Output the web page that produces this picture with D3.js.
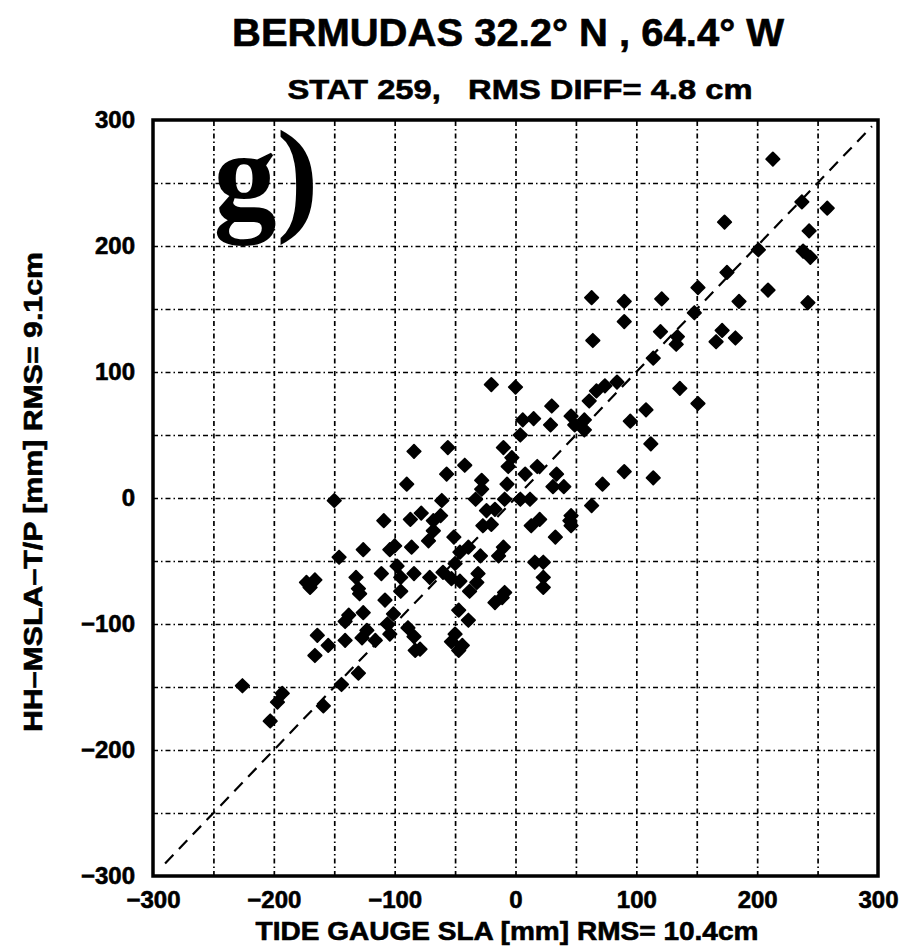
<!DOCTYPE html>
<html>
<head>
<meta charset="utf-8">
<script src="https://cdn.jsdelivr.net/npm/d3@7"></script>
<style>
  html, body { margin: 0; padding: 0; background: #fff; }
  svg { display: block; }
  text { font-family: "Liberation Sans", Arial, Helvetica, sans-serif; font-weight: bold; fill: #000; }
  .heavy { stroke: #000; stroke-width: 0.6px; }
</style>
</head>
<body>
<svg id="chart" width="908" height="949"></svg>
<script>
// Tide gauge sea level anomaly (mm) vs. altimeter HH-MSLA minus T/P (mm), Bermuda station
const tideGauge = [
  213, 258, 237, 173, 243, 201, 238, 244, 175, 209, 151, 242, 185, 121, 90, 90, 148, 120, 134, 133,
  171, 166, 182, 114, 136, 74, 84,
  67, 61, 151, 108, 95, 46, 57, 57, 49, 112, 90, 114, 72, 40, 63, 45,
  63, 64, -20, 0, 30, 6, 15,
  -84, -56, -42, -57, -90, -28, -28, -33, -7, -10, -3, 4, -6, 8, 18, 29, 34, 31, 4, 12,
  -9, -17, -24, 13, 20, 46, 46, 33, -27, -20, -10, -14, -29, -46, -51, -39, -68, -62, -68, -87,
  -78, -61, -72, -86, -104, -100, -109, -98, -84, -71, -60, -53, -46, -50, -31, -32, -38, 16, 23, 23,
  23, -9, -17, -95, -101, -111,
  -108, -106, -104, -89, -84, -83, -79, -47, -39, -50, -53, -44, -47, -11,
  -150, -126, -146, -173, -166, -170, -132, -130, -129, -95, -138, -126,
  -141, -164, -155, -141, -127, -123, -116, -166, -130, -144, -226, -193, -197, -159, -203
];
const altimetry = [
  269, 230, 235, 219, 212, 197, 196, 191, 179, 165, 167, 155, 156, 158, 156, 140, 147, 132, 128, 122,
  133, 124, 127, 111, 87, 89, 92,
  85, 77, 75, 70, 61, 65, 62, 54, 58, 43, 21, 16, 11, 9, -6, -18,
  159, 125, 90, 88, 73, 62, 63,
  37, 40, 26, 19, 11, 14, 7, -1, 11, 40, 32, 50, 25, 19, 25, 58, 19, 9, -1, -1,
  -1, -9, -10, -22, -17, -14, -22, -31, -22, -21, -39, -46, -46, -43, -31, -39, -18, -14, -26, -17,
  -12, -2, -34, -39, -41, -38, -18, -54, -60, -63, -59, -64, -66, -52, -60, -67, -74, -51, -51, -63,
  -71, -75, -83, -74, -92, -60,
  -81, -100, -108, -103, -110, -121, -120, -89, -97, -108, -114, -117, -121, -79,
  -2, -41, -47, -67, -65, -71, -63, -72, -76, -63, -93, -91,
  -98, -109, -117, -113, -111, -105, -113, -125, -139, -148, -149, -155, -162, -165, -177
];

const axisTicks = [-300, -200, -100, 0, 100, 200, 300];
const gridValues = [-250, -200, -150, -100, -50, 0, 50, 100, 150, 200, 250];
const diagonalEnds = [-290, 295];

const titleText = "BERMUDAS 32.2\u00B0 N , 64.4\u00B0 W";
const subtitleText = "STAT 259,   RMS DIFF= 4.8 cm";
const xTitleText = "TIDE GAUGE SLA [mm] RMS= 10.4cm";
const yTitleText = "HH\u2013MSLA\u2013T/P [mm] RMS= 9.1cm";
const panelTag = "g)";

const svg = d3.select("#chart");
const x = d3.scaleLinear().domain([-300, 300]).range([153, 878]);
const y = d3.scaleLinear().domain([-300, 300]).range([876, 120]);
const plotW = x.range()[1] - x.range()[0];
const plotH = y.range()[0] - y.range()[1];

// dash-dot grid every 50 mm
const gridStyle = g => g.selectAll("line")
  .attr("stroke", "#000").attr("stroke-width", 1.7).attr("stroke-dasharray", "5,3,1.5,3");
svg.append("g")
  .attr("transform", `translate(0,${y.range()[0]})`)
  .call(d3.axisBottom(x).tickValues(gridValues).tickSize(-plotH).tickFormat(""))
  .call(g => g.select(".domain").remove())
  .call(gridStyle);
svg.append("g")
  .attr("transform", `translate(${x.range()[0]},0)`)
  .call(d3.axisLeft(y).tickValues(gridValues).tickSize(-plotW).tickFormat(""))
  .call(g => g.select(".domain").remove())
  .call(gridStyle);

// panel tag
svg.append("text")
  .attr("x", x(-250))
  .attr("y", y(222))
  .style("font-family", "'Liberation Serif', 'Times New Roman', serif")
  .style("font-weight", "bold")
  .style("font-size", "126px")
  .text(panelTag);

// 1:1 line
svg.append("line")
  .attr("x1", x(diagonalEnds[0])).attr("y1", y(diagonalEnds[0]))
  .attr("x2", x(diagonalEnds[1])).attr("y2", y(diagonalEnds[1]))
  .attr("stroke", "#000").attr("stroke-width", 2.2).attr("stroke-dasharray", "12,8");

// point markers: fat four-pointed star
const starSymbol = {
  draw(ctx, size) {
    const r = Math.sqrt(size) / 2, k = r * 0.5;
    ctx.moveTo(0, -r); ctx.lineTo(k, -k); ctx.lineTo(r, 0); ctx.lineTo(k, k);
    ctx.lineTo(0, r); ctx.lineTo(-k, k); ctx.lineTo(-r, 0); ctx.lineTo(-k, -k);
    ctx.closePath();
  }
};
const pts = d3.zip(tideGauge, altimetry);
svg.append("g").selectAll("path").data(pts).join("path")
  .attr("transform", d => `translate(${x(d[0])},${y(d[1])})`)
  .attr("d", d3.symbol().type(starSymbol).size(180))
  .attr("fill", "#000").attr("stroke", "#000").attr("stroke-width", 1.8).attr("stroke-linejoin", "round");

// frame
svg.append("rect")
  .attr("x", x.range()[0]).attr("y", y.range()[1])
  .attr("width", plotW).attr("height", plotH)
  .attr("fill", "none").attr("stroke", "#000").attr("stroke-width", 3.5);

// tick labels
svg.append("g")
  .attr("transform", `translate(0,${y.range()[0]})`)
  .call(d3.axisBottom(x).tickValues(axisTicks).tickSize(0).tickPadding(15))
  .call(g => g.select(".domain").remove())
  .call(g => g.selectAll("text").attr("class", "heavy").style("font-size", "24px").attr("dy", "0.71em"));
svg.append("g")
  .attr("transform", `translate(${x.range()[0]},0)`)
  .call(d3.axisLeft(y).tickValues(axisTicks).tickSize(0).tickPadding(18))
  .call(g => g.select(".domain").remove())
  .call(g => g.selectAll("text").attr("class", "heavy").style("font-size", "24px"));

// titles
svg.append("text").attr("class", "heavy")
  .attr("x", 508).attr("y", 46)
  .attr("text-anchor", "middle")
  .attr("textLength", 552).attr("lengthAdjust", "spacingAndGlyphs")
  .style("font-size", "38px")
  .text(titleText);
svg.append("text").attr("class", "heavy")
  .attr("x", 520).attr("y", 99)
  .attr("text-anchor", "middle")
  .attr("textLength", 465).attr("lengthAdjust", "spacingAndGlyphs")
  .style("font-size", "28px").style("white-space", "pre")
  .text(subtitleText);
svg.append("text").attr("class", "heavy")
  .attr("x", 507).attr("y", 940)
  .attr("text-anchor", "middle")
  .attr("textLength", 503).attr("lengthAdjust", "spacingAndGlyphs")
  .style("font-size", "26px")
  .text(xTitleText);
svg.append("text").attr("class", "heavy")
  .attr("transform", "translate(42,492) rotate(-90)")
  .attr("text-anchor", "middle")
  .attr("textLength", 480).attr("lengthAdjust", "spacingAndGlyphs")
  .style("font-size", "26px")
  .text(yTitleText);
</script>
</body>
</html>
